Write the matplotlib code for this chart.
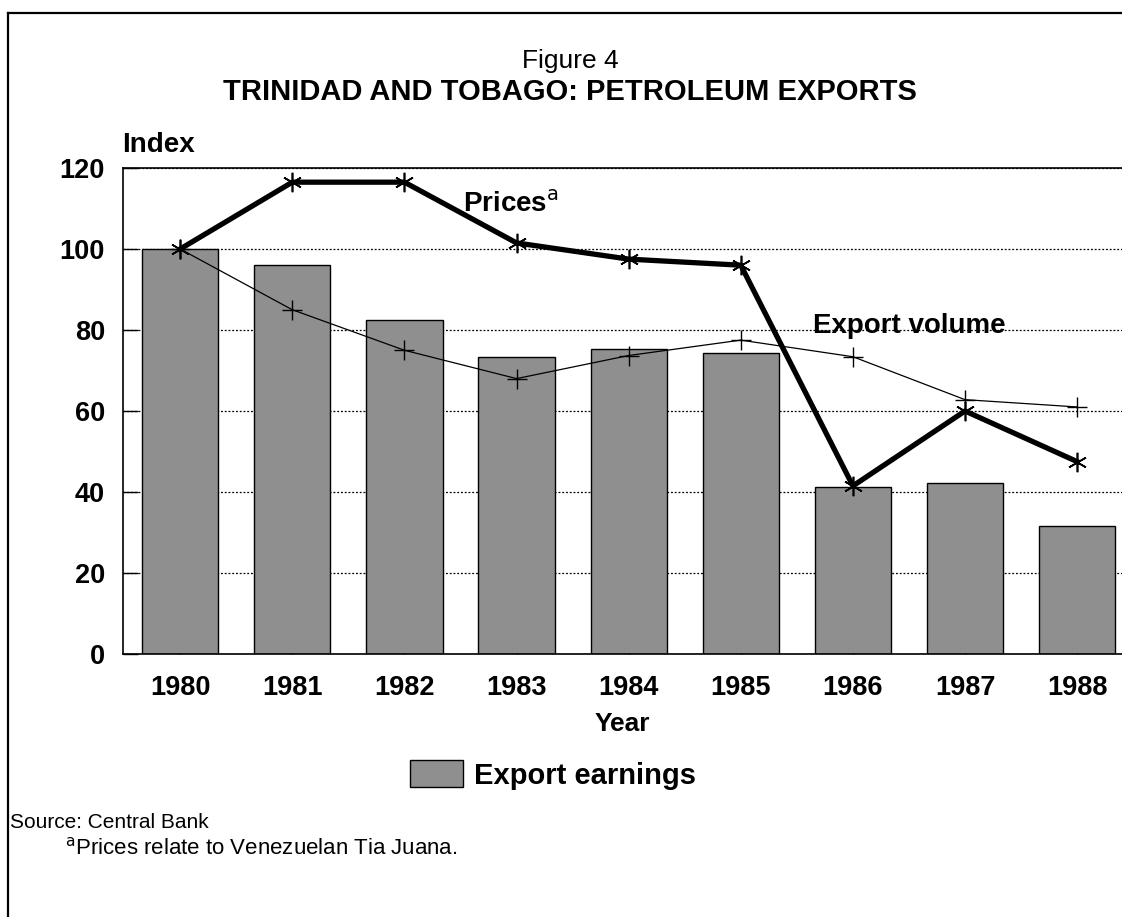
import matplotlib
matplotlib.use("Agg")
import matplotlib.pyplot as plt
from matplotlib.lines import Line2D

# data (index, 1980 = 100)
years = ["1980", "1981", "1982", "1983", "1984", "1985", "1986", "1987", "1988"]
export_earnings = [100, 96, 82.5, 73.3, 75.4, 74.4, 41.2, 42.2, 31.5]
prices = [100, 116.5, 116.5, 101.5, 97.5, 96, 41.5, 60, 47.5]
export_volume = [100, 85, 75, 68, 73.7, 77.5, 73.4, 62.8, 61]
yticks = [0, 20, 40, 60, 80, 100, 120]

W, H = 1122, 917
BOLD = ["Liberation Sans", "DejaVu Sans"]


def px(x, y):
    """pixel position (from top-left) -> figure fraction"""
    return x / W, 1 - y / H


fig = plt.figure(figsize=(W / 100, H / 100), dpi=100)
ax = fig.add_axes([123 / W, 1 - 654 / H, 1 - 123 / W, (654 - 168) / H])

x = list(range(len(years)))
ax.yaxis.grid(True, linestyle=(0, (1.5, 1.5)), color="black", linewidth=0.9)
ax.set_axisbelow(True)

bars = ax.bar(x, export_earnings, width=0.68, color="#8f8f8f",
              edgecolor="black", linewidth=1.0, zorder=2)
ax.plot(x, export_volume, color="black", linewidth=0.9, marker="+",
        markersize=15, markeredgewidth=1.0, zorder=3)
ax.plot(x, prices, color="black", linewidth=3.8, marker=(6, 2, 0),
        markersize=14, markeredgewidth=1.2, zorder=4)

ax.set_xlim(-0.51, 8.4)
ax.set_ylim(0, 120)
ax.set_yticks(yticks)
ax.set_xticks(x)
ax.set_xticklabels(years)
for lab in ax.get_xticklabels() + ax.get_yticklabels():
    lab.set_fontfamily(BOLD)
    lab.set_fontweight("bold")
    lab.set_fontsize(19.5)
ax.tick_params(axis="y", direction="in", length=11, width=1.0, pad=13)
ax.tick_params(axis="x", direction="in", length=9, width=1.0, pad=15)
ax.spines["right"].set_visible(False)
for s in ("left", "bottom", "top"):
    ax.spines[s].set_linewidth(1.2)

ax.set_xlabel("Year", fontsize=19, fontweight="bold", family=BOLD, labelpad=8)

# series labels
ax.text(2.52, 111, "Prices$^{\\mathrm{a}}$", fontsize=20, fontweight="bold",
        family=BOLD, ha="left", va="center", zorder=5)
ax.text(6.5, 81, "Export volume", fontsize=20, fontweight="bold",
        family=BOLD, ha="center", va="center", zorder=5)

# titles
fig.text(*px(570, 61), "Figure 4", fontsize=19, family=BOLD,
         ha="center", va="center")
fig.text(*px(570, 92), "TRINIDAD AND TOBAGO: PETROLEUM EXPORTS", fontsize=21,
         fontweight="bold", family=BOLD, ha="center", va="center")
fig.text(*px(122, 145), "Index", fontsize=20, fontweight="bold", family=BOLD,
         ha="left", va="center")

# legend
fig.legend(handles=[bars], labels=["Export earnings"], loc="center left",
           bbox_to_anchor=px(384, 775), frameon=False, handlelength=1.8,
           handleheight=1.0, handletextpad=0.4,
           prop={"family": BOLD, "weight": "bold", "size": 21})

# source notes
fig.text(*px(10, 822), "Source: Central Bank", fontsize=15, family=BOLD,
         ha="left", va="center")
fig.text(*px(65, 848), "$^{\\mathrm{a}}$Prices relate to Venezuelan Tia Juana.",
         fontsize=16, family=BOLD, ha="left", va="center")

# page frame (left and top edges)
fig.add_artist(Line2D([8 / W, 8 / W], [0, 1 - 13 / H], color="black",
                      linewidth=1.6, transform=fig.transFigure))
fig.add_artist(Line2D([8 / W, 1], [1 - 13 / H, 1 - 13 / H], color="black",
                      linewidth=1.6, transform=fig.transFigure))

fig.savefig("out.png", dpi=100)
